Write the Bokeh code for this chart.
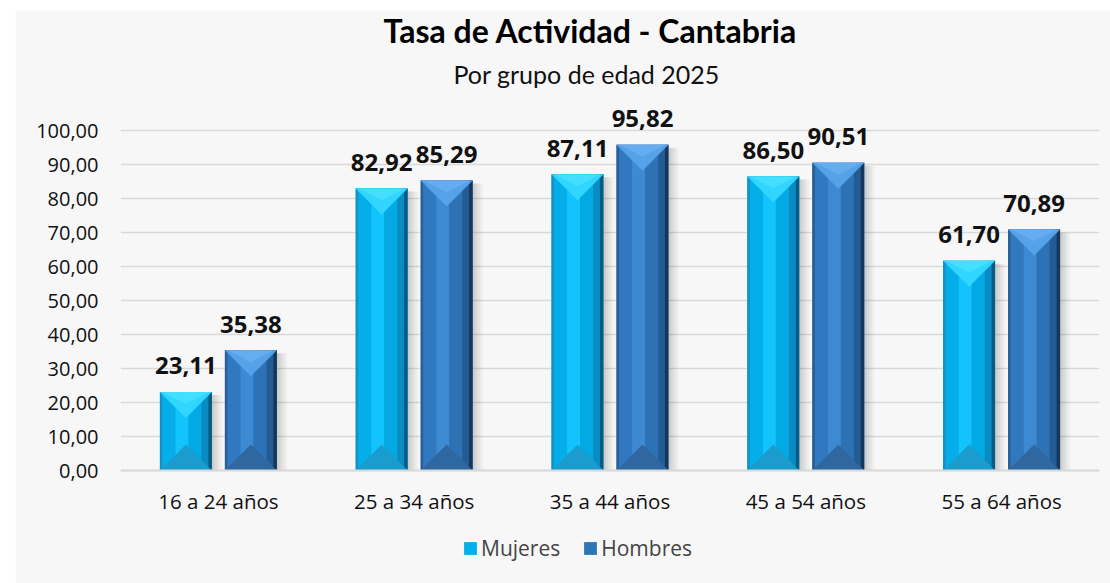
import numpy as np
from bokeh.plotting import figure
from bokeh.layouts import row, column
from bokeh.models import (Range1d, FixedTicker, CustomJSTickFormatter, Title,
                          Legend, LegendItem, Span, Spacer)
from bokeh.embed import file_html
from bokeh.resources import INLINE
from bokeh.core.properties import value

# ---------------- data ----------------
categories = ["16 a 24 años", "25 a 34 años", "35 a 44 años", "45 a 54 años", "55 a 64 años"]
mujeres = [23.11, 82.92, 87.11, 86.50, 61.70]
hombres = [35.38, 85.29, 95.82, 90.51, 70.89]
series_names = ["Mujeres", "Hombres"]
y_ticks = [0, 10, 20, 30, 40, 50, 60, 70, 80, 90, 100]
title_text = "Tasa de Actividad - Cantabria"
subtitle_text = "Por grupo de edad 2025"

# ---------------- layout ----------------
PAD_L, PAD_T = 15, 10
W, H = 1095, 573
BL, BR, BT, BB = 105, 11, 90, 0
FW = W - BL - BR
FH = H - BT - BB
PX_Y = 3.4
BELOW_PX = 113          # frame area below the zero line (labels + legend)
Y_START = -BELOW_PX / PX_Y
Y_END = (FH - BELOW_PX) / PX_Y
PX_X = FW / len(categories)

BAR_W_PX = 52
OFF_PX = 32.5
bw = BAR_W_PX / PX_X
off = OFF_PX / PX_X
tri = (BAR_W_PX / 2) / PX_Y

BG = "#f7f7f7"
FONT = "Open Sans"
TFONT = "Lato"

styles = {
    "Mujeres": dict(
        base="#00b0ec",
        strips=[0, 0.05, 0.3, 0.55, 0.8, 0.93, 1.0],
        colors=["#1490c8", "#05aee8", "#12c4fb", "#02a9e2", "#0a8cc2", "#0b5a82"],
        top="#30d6ff", top2="#52e2ff", bottom="#1a9ccf"),
    "Hombres": dict(
        base="#2e75b6",
        strips=[0, 0.05, 0.3, 0.55, 0.8, 0.93, 1.0],
        colors=["#2a5f96", "#3079c0", "#3d8ad3", "#2d72b4", "#235c94", "#16375a"],
        top="#56a2e8", top2="#6fb4f2", bottom="#2f67a0"),
}

p = figure(width=W, height=H, x_range=Range1d(0, len(categories)),
           y_range=Range1d(Y_START, Y_END),
           output_backend="svg", toolbar_location=None,
           min_border_left=BL, min_border_right=BR, min_border_top=BT, min_border_bottom=BB)
p.background_fill_color = BG
p.border_fill_color = BG
p.outline_line_color = None

# titles (first added = closest to the plot)
p.add_layout(Title(text=subtitle_text, align="left", offset=333, standoff=24,
                   text_font=TFONT, text_font_size="25px", text_font_style="normal",
                   text_color="#111111"), "above")
p.add_layout(Title(text=title_text, align="left", offset=263, standoff=-10,
                   text_font=TFONT, text_font_size="32px", text_font_style="bold",
                   text_color="#000000"), "above")

# y axis
yt = FixedTicker(ticks=y_ticks)
p.yaxis.ticker = yt
p.yaxis.formatter = CustomJSTickFormatter(code="return tick.toFixed(2).replace('.', ',');")
p.yaxis.axis_line_color = None
p.yaxis.major_tick_line_color = None
p.yaxis.minor_tick_line_color = None
p.yaxis.major_label_text_font = FONT
p.yaxis.major_label_text_font_size = "20px"
p.yaxis.major_label_text_color = "#111111"
p.yaxis.major_label_standoff = 16

p.xaxis.visible = False
p.xgrid.visible = False
p.ygrid.ticker = yt
p.ygrid.grid_line_color = "#d9d9d9"
p.ygrid.grid_line_width = 1.5

xt_pos = [i + 0.5 for i in range(len(categories))]

legend_items = []
for name, vals, sgn in [("Mujeres", mujeres, -1), ("Hombres", hombres, 1)]:
    st = styles[name]
    vals = np.array(vals)
    centers = np.array(xt_pos) + sgn * off
    x0 = centers - bw / 2
    x1 = centers + bw / 2

    # shadow to the right
    sh_px = [2.5, 2.5, 2.5, 2.5]
    alphas = [0.17, 0.12, 0.075, 0.035]
    acc = 0
    for w_px, a in zip(sh_px, alphas):
        p.quad(left=x1 + acc / PX_X, right=x1 + (acc + w_px) / PX_X,
               bottom=np.zeros_like(vals), top=vals - 3 / PX_Y,
               fill_color="black", fill_alpha=a, line_color=None)
        acc += w_px

    body = p.quad(left=x0, right=x1, bottom=np.zeros_like(vals), top=vals,
                  fill_color=st["base"], line_color=None)
    legend_items.append(LegendItem(label=name, renderers=[body]))

    fr = st["strips"]
    for k, col in enumerate(st["colors"]):
        p.quad(left=x0 + fr[k] * bw, right=x0 + fr[k + 1] * bw,
               bottom=np.zeros_like(vals), top=vals, fill_color=col, line_color=None)

    # top bevel triangle
    xs_top = [[a, b, c] for a, b, c in zip(x0, x1, centers)]
    ys_top = [[v, v, v - tri] for v in vals]
    p.patches(xs_top, ys_top, fill_color=st["top"], line_color=None)
    ys_top2 = [[v, v, v - tri * 0.45] for v in vals]
    xs_top2 = [[a + bw * 0.05, b - bw * 0.05, c] for a, b, c in zip(x0, x1, centers)]
    p.patches(xs_top2, ys_top2, fill_color=st["top2"], fill_alpha=0.6, line_color=None)

    # bottom bevel triangle
    xs_bot = [[a, b, c] for a, b, c in zip(x0, x1, centers)]
    ys_bot = [[0, 0, tri] for _ in vals]
    p.patches(xs_bot, ys_bot, fill_color=st["bottom"], line_color=None)

    labels = [f"{v:.2f}".replace(".", ",") for v in vals]
    p.text(x=centers, y=vals, text=labels, text_align="center", text_baseline="alphabetic",
           y_offset=-26, text_font=value(FONT), text_font_style="bold",
           text_font_size="24px", text_color="#111111")

# x axis line and category labels
p.add_layout(Span(location=0, dimension="width", line_color="#d9d9d9", line_width=2))
p.text(x=xt_pos, y=[0] * len(xt_pos), text=categories, text_align="center",
       text_baseline="middle", y_offset=30, text_font=value(FONT),
       text_font_size="20.5px", text_color="#111111")

legend = Legend(items=legend_items, orientation="horizontal", location=(342, 21),
                glyph_width=16, glyph_height=16, label_text_font=FONT,
                label_text_font_size="21px", label_standoff=3, spacing=22,
                padding=0, margin=0, border_line_color=None, background_fill_alpha=0)
p.add_layout(legend, "center")

page = column(Spacer(height=PAD_T), row(Spacer(width=PAD_L), p))
open("out.html", "w").write(file_html(page, INLINE))
